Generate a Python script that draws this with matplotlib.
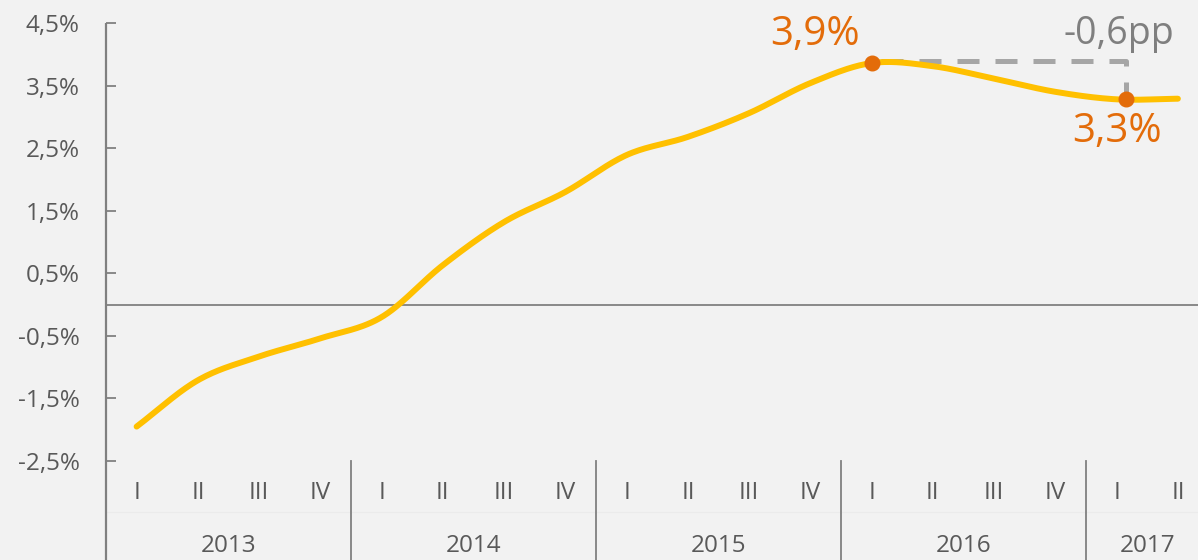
import numpy as np
import matplotlib
matplotlib.use("Agg")
import matplotlib.pyplot as plt

plt.rcParams['font.family'] = ['Open Sans', 'DejaVu Sans']
plt.rcParams['font.weight'] = 500

# data (quarterly, %)
years = ['2013', '2014', '2015', '2016', '2017']
quarters = ['I', 'II', 'III', 'IV'] * 4 + ['I', 'II']
values = [-1.95, -1.21, -0.83, -0.54,
          -0.20, 0.63, 1.32, 1.80,
          2.39, 2.68, 3.06, 3.54,
          3.86, 3.81, 3.61, 3.40,
          3.28, 3.29]
yticks = [-2.5, -1.5, -0.5, 0.5, 1.5, 2.5, 3.5, 4.5]
peak_x, peak_y = 12.0, 3.86
low_x, low_y = 16.15, 3.28

bg = '#f2f2f2'
grey_txt = '#595959'
axis_col = '#808080'
yellow = '#ffc000'
orange = '#e36c0a'


def catmull_rom(x, y, n=30):
    x = np.asarray(x, float)
    y = np.asarray(y, float)
    px = np.concatenate([[2 * x[0] - x[1]], x, [2 * x[-1] - x[-2]]])
    py = np.concatenate([[2 * y[0] - y[1]], y, [2 * y[-1] - y[-2]]])
    xs, ys = [], []
    t = np.linspace(0, 1, n, endpoint=False)
    for i in range(1, len(px) - 2):
        for arr, out in ((px, xs), (py, ys)):
            p0, p1, p2, p3 = arr[i - 1], arr[i], arr[i + 1], arr[i + 2]
            out.extend(0.5 * (2 * p1 + (-p0 + p2) * t
                              + (2 * p0 - 5 * p1 + 4 * p2 - p3) * t ** 2
                              + (-p0 + 3 * p1 - 3 * p2 + p3) * t ** 3))
    xs.append(x[-1])
    ys.append(y[-1])
    return np.array(xs), np.array(ys)


fig = plt.figure(figsize=(11.98, 5.60), dpi=100, facecolor=bg)
ax = fig.add_axes([106 / 1198, 1 - 461 / 560, 1102.5 / 1198, 438 / 560])
ax.set_facecolor(bg)
ax.set_xlim(-0.5, 17.5)
ax.set_ylim(-2.5, 4.5)
for s in ax.spines.values():
    s.set_visible(False)

x = np.arange(len(values))
ybot = -2.5 - 99 / 62.5

# left axis line and zero line
ax.plot([-0.5, -0.5], [4.5, ybot], color=axis_col, lw=1.6, clip_on=False,
        solid_capstyle='butt')
ax.axhline(0, color=axis_col, lw=1.3, zorder=1)

# y ticks
ax.set_yticks(yticks)
ax.set_yticklabels([f"{v:.1f}%".replace('.', ',') for v in yticks])
ax.tick_params(axis='y', direction='in', length=7, width=1.3, color=axis_col,
               labelsize=17.5, labelcolor=grey_txt, pad=19)
ax.set_xticks([])

# category axis below
q_y = -2.5 - 32 / 62.5
yr_y = -2.5 - 85 / 62.5
for i, q in enumerate(quarters):
    ax.text(i, q_y, q, ha='center', va='center', fontsize=17.5, color=grey_txt,
            clip_on=False)
for k, yr in enumerate(years):
    start = k * 4
    end = min(start + 3, len(values) - 1)
    ax.text((start + end) / 2, yr_y, yr, ha='center', va='center',
            fontsize=17.5, color=grey_txt, clip_on=False)
    if k > 0:
        ax.plot([start - 0.5, start - 0.5], [-2.5, ybot], color=axis_col,
                lw=1.3, clip_on=False)
ax.plot([-0.5, 17.5], [-2.5 - 51 / 62.5] * 2, color='#ebebeb', lw=0.8,
        clip_on=False, zorder=0)

# series
sx, sy = catmull_rom(x, values)
ax.plot(sx, sy, color=yellow, lw=4.3, solid_capstyle='round', zorder=3)

# difference bracket
ax.plot([peak_x + 0.15, low_x, low_x], [peak_y + 0.03, peak_y + 0.03, low_y + 0.12],
        color='#a6a6a6', lw=3.6, dashes=(4.4, 3.2), solid_capstyle='butt',
        dash_capstyle='butt', zorder=2)

ax.plot([peak_x, low_x], [peak_y, low_y], 'o', color=orange, ms=10.5, zorder=4)

ax.text(11.08, 4.32, "3,9%", ha='center', va='center', fontsize=29,
        color=orange, clip_on=False)
ax.text(16.0, 2.76, "3,3%", ha='center', va='center', fontsize=29,
        color=orange, clip_on=False)
ax.text(16.04, 4.32, "-0,6pp", ha='center', va='center', fontsize=27,
        color='#7f7f7f', clip_on=False)

fig.savefig("out.png", dpi=100, facecolor=bg)
